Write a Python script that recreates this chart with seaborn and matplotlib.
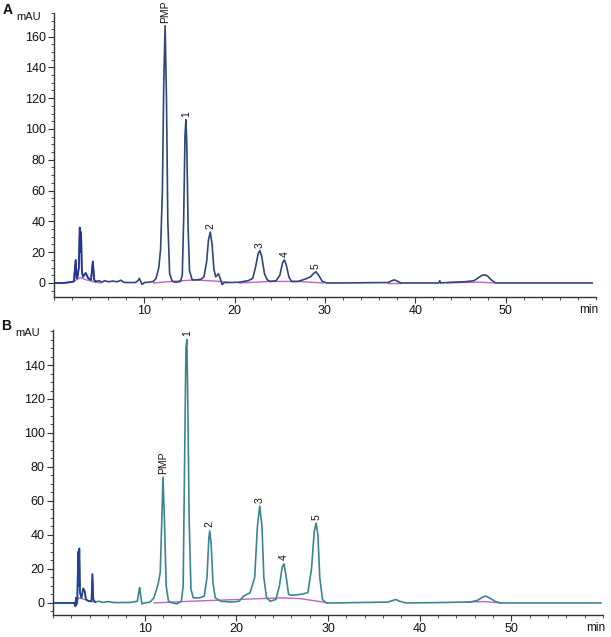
import numpy as np
import pandas as pd
import matplotlib
matplotlib.use("Agg")
import matplotlib.pyplot as plt
import matplotlib.transforms as mtransforms
from matplotlib.ticker import MultipleLocator
import seaborn as sns

# ---------------- data ----------------
# Panel A chromatogram
a_time = [0, 1.0, 1.8, 2.2, 2.4, 2.5, 2.6, 2.75, 2.85, 2.92, 3.0, 3.08, 3.2, 3.5, 3.8, 4.1, 4.3, 4.45, 4.6,
          5.0, 5.3, 5.6, 6.0, 6.5, 7.0, 7.4, 7.7, 8.0, 9.0, 9.3, 9.45, 9.6, 9.75, 10.0, 10.5, 11.0, 11.3,
          11.6, 11.8, 12.0, 12.15, 12.3, 12.45, 12.6, 12.8, 13.1, 13.5, 14.0, 14.2, 14.35, 14.5, 14.6, 14.7,
          14.85, 15.0, 15.3, 15.8, 16.3, 16.6, 16.9, 17.1, 17.3, 17.5, 17.7, 17.9, 18.05, 18.2, 18.4, 18.6,
          18.9, 19.5, 20.5, 21.5, 22.0, 22.3, 22.6, 22.8, 23.0, 23.3, 23.6, 24.0, 24.6, 25.0, 25.3, 25.5,
          25.7, 26.0, 26.3, 27.0, 27.8, 28.4, 28.7, 29.0, 29.3, 29.7, 30.2, 32, 35, 37.0, 37.4, 37.7, 38.0,
          38.4, 40, 42.6, 42.7, 42.8, 44, 45.5, 46.5, 47.0, 47.4, 47.7, 48.0, 48.4, 48.9, 49.5, 52, 56, 59.6]
a_signal = [0, 0, 0.5, 1, 15, 3, 4, 10, 36, 20, 33, 8, 4, 6.5, 3, 2, 14, 2, 1,
            1.5, 0.5, 1.5, 0.8, 1.2, 0.8, 1.8, 0.5, 0.3, 0.3, 1.5, 3, 1, -1, 0.3, 0.5, 1, 3,
            10, 22, 60, 130, 167, 120, 40, 6, 1, 0.5, 1, 5, 40, 95, 106, 90,
            35, 8, 2, 2, 2.5, 4, 14, 28, 33, 25, 9, 4, 5, 6, 3, -1,
            0.5, 0.3, 0.5, 1.5, 3, 10, 19, 21, 17, 6, 2, 1, 1.5, 5, 13, 15,
            12, 4, 1, 1, 2.5, 4, 6, 7.3, 5, 1, 0, 0, 0.2, 0.3, 1.5, 2, 1.2,
            0, 0, 0, 1.5, 0, 0.5, 0.8, 1.5, 3.5, 5, 5.3, 4.5, 2, 0, 0, 0, 0, 0]
# Panel A integration baselines (segments)
a_base_seg = ["s1"] * 5 + ["s2"] * 5 + ["s3"] * 4 + ["s4"] * 2 + ["s5"] * 4
a_base_time = [2.2, 2.9, 3.6, 4.6, 5.2,
               11.0, 13.0, 15.5, 18.5, 19.2,
               20.5, 24.0, 27.0, 29.8,
               37.0, 38.4,
               43.5, 45.0, 47.0, 49.0]
a_base_signal = [1, 3.5, 2, 0.5, 0,
                 0, 1, 2, 1, 0,
                 0, 1, 1, 0,
                 0, 0,
                 0, 0.3, 0.5, 0]

# Panel B chromatogram
b_time = [0, 1.5, 2.3, 2.45, 2.5, 2.55, 2.65, 2.75, 2.8, 2.87, 2.95, 3.1, 3.3, 3.45, 3.6, 3.9, 4.2, 4.3, 4.4,
          4.6, 5.0, 5.4, 6.0, 6.5, 7.0, 8.5, 9.2, 9.35, 9.45, 9.55, 9.7, 10.0, 10.6, 11.0, 11.3, 11.5, 11.7,
          11.85, 12.0, 12.15, 12.35, 12.6, 13.0, 13.5, 14.0, 14.2, 14.35, 14.5, 14.6, 14.7, 14.85, 15.05,
          15.3, 16.0, 16.5, 16.8, 17.0, 17.1, 17.25, 17.45, 17.7, 18.3, 19.5, 20.3, 20.8, 21.5, 22.0, 22.3,
          22.55, 22.8, 23.0, 23.3, 23.7, 24.3, 24.7, 25.0, 25.2, 25.45, 25.7, 26.0, 27.0, 27.8, 28.2, 28.5,
          28.7, 28.9, 29.1, 29.4, 29.8, 31, 33, 36.5, 37.1, 37.4, 37.8, 38.5, 42, 44.8, 45.5, 46.3, 46.9,
          47.2, 47.6, 48.2, 48.8, 52, 56, 59.8]
b_signal = [0, 0, 0, -2, 3, -1, 1, 30, 10, 32, 6, 3, 8.5, 7, 2, 1, 1, 17, 2,
            0.5, 1, 0.3, 0.8, 0.3, 0.2, 0.3, 1, 6, 9, 5, -0.5, 0, 0.5, 3, 8, 12, 18,
            45, 74, 50, 10, 1, 0, -0.5, 1, 10, 80, 150, 155, 120, 50, 8,
            3, 3, 4, 15, 38, 42.5, 35, 12, 3, 1, 0.5, 1, 4, 6, 15, 45,
            57, 45, 15, 3, 1, 2, 10, 21, 23, 15, 5, 4.5, 5, 6, 20, 42,
            47, 40, 15, 2, 0, 0, 0.2, 0.5, 1.5, 2, 1, 0, 0.2, 0.5, 0.5, 1.5, 3.5,
            4, 3, 1, 0, 0, 0, 0]
b_base_seg = ["s1"] * 4 + ["s2"] * 7 + ["s3"] * 3
b_base_time = [2.3, 2.85, 3.5, 4.5,
               11.0, 15.0, 20.0, 25.0, 27.0, 29.5, 30.0,
               45.0, 47.0, 48.8]
b_base_signal = [0, 3, 2, 0.5,
                 0, 1, 2, 3, 2.5, 0.5, 0,
                 0.5, 0.8, 0]

# Peak labels
a_labels = ["PMP", "1", "2", "3", "4", "5"]
a_label_time = [12.3, 14.6, 17.3, 22.8, 25.5, 29.0]
a_label_height = [167, 106, 33, 21, 15, 7.3]
b_labels = ["PMP", "1", "2", "3", "4", "5"]
b_label_time = [12.0, 14.6, 17.1, 22.55, 25.2, 28.7]
b_label_height = [74, 155, 42.5, 57, 23, 47]

x_ticks = [10, 20, 30, 40, 50]

# ---------------- style ----------------
sns.set_style("ticks")
plt.rcParams["font.family"] = ["Liberation Sans", "DejaVu Sans"]
plt.rcParams["axes.edgecolor"] = "#333333"
plt.rcParams["xtick.color"] = "#333333"
plt.rcParams["ytick.color"] = "#333333"
plt.rcParams["xtick.labelcolor"] = "#111111"
plt.rcParams["ytick.labelcolor"] = "#111111"

line_a = "#2f4677"
early_a = "#2233a0"
line_b = "#3b8591"
early_b = "#22409a"
base_col = "#c062c8"

fig = plt.figure(figsize=(6.11, 6.37), dpi=100)
axA = fig.add_axes([54 / 611, (637 - 297) / 637, 542 / 611, 284 / 637])
axB = fig.add_axes([53 / 611, (637 - 615) / 637, 550 / 611, 285 / 637])


def draw_panel(ax, t, s, bt, bs, bseg, line_col, early_col, labels, lt, lh,
               ylim, yticks, mau_y, letter):
    df = pd.DataFrame({"t": t, "s": s})
    dfb = pd.DataFrame({"t": bt, "s": bs, "seg": bseg})
    sns.lineplot(data=dfb, x="t", y="s", units="seg", estimator=None, sort=False,
                 color=base_col, lw=1.0, ax=ax)
    sns.lineplot(data=df, x="t", y="s", estimator=None, sort=False,
                 color=line_col, lw=1.2, ax=ax)
    early = df[df["t"] <= 4.6]
    sns.lineplot(data=early, x="t", y="s", estimator=None, sort=False,
                 color=early_col, lw=1.2, ax=ax)
    for lab, x, y in zip(labels, lt, lh):
        ax.text(x, y + 2, lab, rotation=90, ha="center", va="bottom",
                fontsize=7.5, color="#111111", clip_on=False)
    ax.set_xlim(0, 60)
    ax.set_ylim(*ylim)
    ax.set_xticks(x_ticks)
    ax.set_yticks(yticks)
    ax.xaxis.set_minor_locator(MultipleLocator(2))
    ax.yaxis.set_minor_locator(MultipleLocator(5))
    ax.tick_params(axis="both", which="major", length=4, width=0.8, labelsize=9, pad=2)
    ax.tick_params(axis="both", which="minor", length=2, width=0.6)
    ax.set_xlabel("")
    ax.set_ylabel("")
    sns.despine(ax=ax)
    for sp in ["left", "bottom"]:
        ax.spines[sp].set_linewidth(1.0)
    trans_y = mtransforms.blended_transform_factory(ax.transAxes, ax.transData)
    ax.text(-0.024, mau_y, "mAU", transform=trans_y, ha="right", va="center",
            fontsize=8, color="#111111")
    trans_x = mtransforms.blended_transform_factory(ax.transData, ax.transAxes)
    ax.text(59.2, -0.025, "min", transform=trans_x, ha="center", va="top",
            fontsize=8.5, color="#111111")
    ax.text(-0.095, mau_y, letter, transform=trans_y, ha="left", va="bottom",
            fontsize=10, fontweight="bold", color="#111111")


draw_panel(axA, a_time, a_signal, a_base_time, a_base_signal, a_base_seg, line_a, early_a,
           a_labels, a_label_time, a_label_height, (-9.1, 175.3), list(range(0, 161, 20)), 173, "A")
draw_panel(axB, b_time, b_signal, b_base_time, b_base_signal, b_base_seg, line_b, early_b,
           b_labels, b_label_time, b_label_height, (-7.1, 160.6), list(range(0, 141, 20)), 159, "B")

fig.savefig("out.png", dpi=100)
